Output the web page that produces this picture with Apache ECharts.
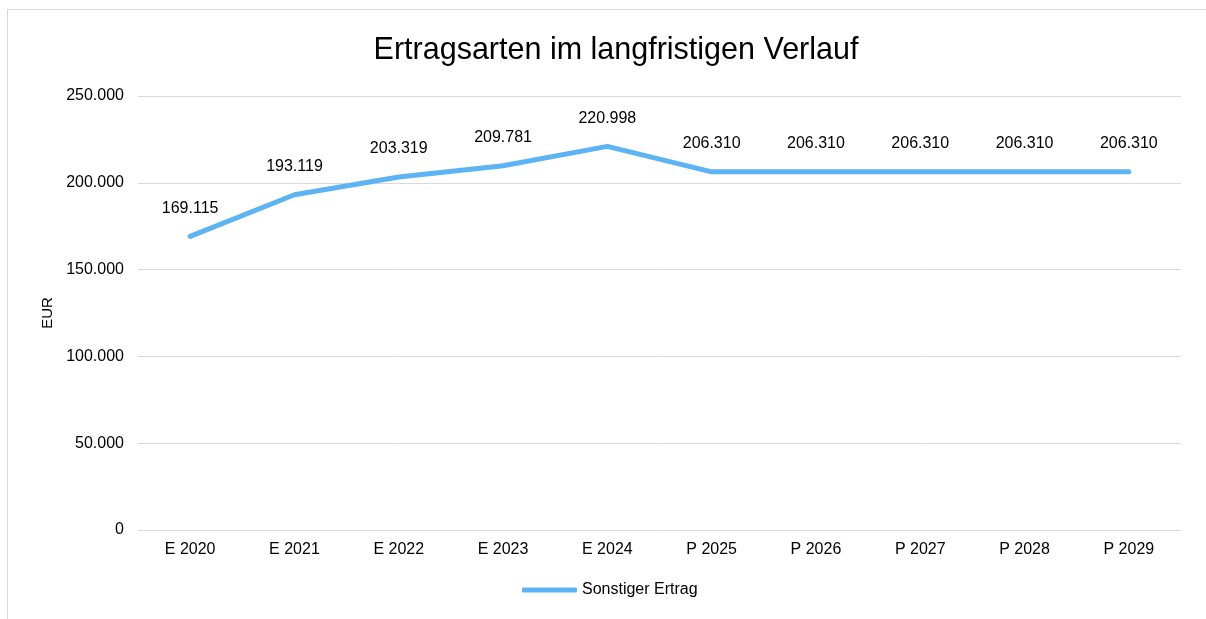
<!DOCTYPE html>
<html>
<head>
<meta charset="utf-8">
<script src="https://cdn.jsdelivr.net/npm/echarts@6/dist/echarts.min.js"></script>
<style>
  html, body { margin: 0; padding: 0; background: #fff; }
  #frame { position: absolute; left: 7px; top: 9px; width: 1240px; height: 700px; border: 1px solid #d9d9d9; box-sizing: border-box; }
  #chart { position: absolute; left: 0; top: 0; width: 1206px; height: 619px; }
</style>
</head>
<body>
<div id="frame"></div>
<div id="chart"></div>
<script>
var categories = ['E 2020', 'E 2021', 'E 2022', 'E 2023', 'E 2024', 'P 2025', 'P 2026', 'P 2027', 'P 2028', 'P 2029']
var sonstigerErtrag = [169115, 193119, 203319, 209781, 220998, 206310, 206310, 206310, 206310, 206310]

// 1234567 -> 1.234.567
function fmt(v) {
  return String(Math.round(v)).replace(/\B(?=(\d{3})+(?!\d))/g, '.')
}

var chart = echarts.init(document.getElementById('chart'), null, { renderer: 'canvas' })
chart.setOption({
  animation: false,
  textStyle: { fontFamily: 'Liberation Sans, Arial, sans-serif' },
  title: {
    text: 'Ertragsarten im langfristigen Verlauf',
    left: 611,
    textAlign: 'center',
    top: 30,
    textStyle: { fontSize: 30.5, fontWeight: 'normal', color: '#000' }
  },
  grid: { left: 138, right: 25, top: 96, bottom: 89 },
  legend: {
    bottom: 16,
    left: 517,
    itemWidth: 55,
    itemHeight: 5,
    itemGap: 10,
    icon: 'roundRect',
    textStyle: { fontSize: 16, color: '#000' },
    data: ['Sonstiger Ertrag']
  },
  xAxis: {
    type: 'category',
    data: categories,
    boundaryGap: true,
    axisLine: { lineStyle: { color: '#d9d9d9', width: 1 } },
    axisTick: { show: false },
    axisLabel: { color: '#000', fontSize: 16, margin: 12 }
  },
  yAxis: {
    type: 'value',
    min: 0,
    max: 250000,
    interval: 50000,
    name: 'EUR',
    nameLocation: 'middle',
    nameRotate: 90,
    nameGap: 81,
    nameTextStyle: { color: '#000', fontSize: 15 },
    axisLine: { show: false },
    axisTick: { show: false },
    splitLine: { lineStyle: { color: '#d9d9d9', width: 1 } },
    axisLabel: { color: '#000', fontSize: 16, margin: 14, formatter: fmt }
  },
  series: [{
    name: 'Sonstiger Ertrag',
    type: 'line',
    data: sonstigerErtrag,
    symbol: 'circle',
    symbolSize: 0,
    showSymbol: true,
    lineStyle: { color: '#5db4f5', width: 5, cap: 'round', join: 'round' },
    itemStyle: { color: '#5db4f5' },
    label: {
      show: true,
      position: 'top',
      distance: 20,
      color: '#000',
      fontSize: 16,
      formatter: function (p) { return fmt(p.value) }
    }
  }]
})
</script>
</body>
</html>
